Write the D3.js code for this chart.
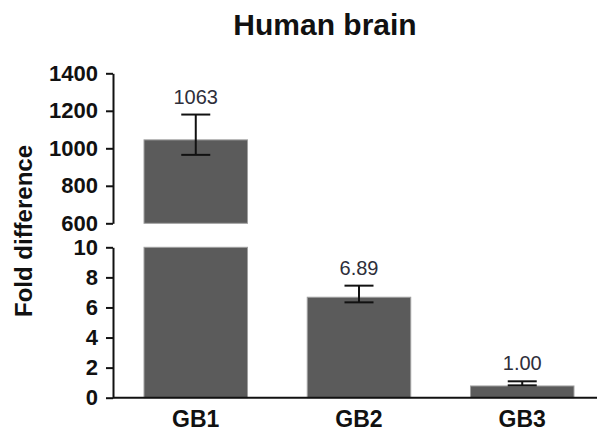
<!DOCTYPE html>
<html>
<head>
<meta charset="utf-8">
<script src="https://cdn.jsdelivr.net/npm/d3@7"></script>
<style>
  body { margin: 0; background: #fff; }
  text { font-family: "Liberation Sans", Arial, sans-serif; }
</style>
</head>
<body>
<svg></svg>
<script>
// data
let groups = ["GB1", "GB2", "GB3"];
let means = [1045, 6.68, 0.78];
let errHigh = [1180, 7.45, 1.09];
let errLow = [965, 6.34, 0.82];
let valueLabels = ["1063", "6.89", "1.00"];
let topTicks = [600, 800, 1000, 1200, 1400];
let bottomTicks = [0, 2, 4, 6, 8, 10];

let width = 597;
let height = 433;
let axisX = 113;
let breakAt = 10; // bottom segment goes 0..10, top segment 600..1400

let svg = d3.select("svg")
    .attr("width", width)
    .attr("height", height);

let x = d3.scaleBand()
    .domain(groups)
    .range([axisX, 605])
    .paddingInner(0.366)
    .paddingOuter(0.19);

let yTop = d3.scaleLinear().domain([600, 1400]).range([223.3, 73.3]);
let yBot = d3.scaleLinear().domain([0, 10]).range([397.7, 247.3]);

let data = groups.map((g, i) => ({
    group: g, mean: means[i], hi: errHigh[i], lo: errLow[i], label: valueLabels[i]
}));

function yOf(v) {
    return v > breakAt ? yTop(v) : yBot(v);
}

// bars, bottom segment
svg.selectAll(".bar-bot")
    .data(data)
    .enter()
    .append("rect")
    .attr("x", d => x(d.group))
    .attr("width", x.bandwidth())
    .attr("y", d => yBot(Math.min(d.mean, breakAt)))
    .attr("height", d => yBot(0) - yBot(Math.min(d.mean, breakAt)))
    .attr("fill", "#5b5b5b")
    .attr("stroke", "#a0a0a0")
    .attr("stroke-width", 1);

// bars, top segment
svg.selectAll(".bar-top")
    .data(data.filter(d => d.mean > breakAt))
    .enter()
    .append("rect")
    .attr("x", d => x(d.group))
    .attr("width", x.bandwidth())
    .attr("y", d => yTop(d.mean))
    .attr("height", d => yTop(600) - yTop(d.mean))
    .attr("fill", "#5b5b5b")
    .attr("stroke", "#a0a0a0")
    .attr("stroke-width", 1);

// error bars
let capHalf = 14.5;
let err = svg.selectAll(".err")
    .data(data)
    .enter()
    .append("g")
    .attr("stroke", "#111")
    .attr("stroke-width", 2);

err.append("line")
    .attr("x1", d => x(d.group) + x.bandwidth() / 2)
    .attr("x2", d => x(d.group) + x.bandwidth() / 2)
    .attr("y1", d => yOf(d.hi))
    .attr("y2", d => yOf(d.lo));
err.append("line")
    .attr("x1", d => x(d.group) + x.bandwidth() / 2 - capHalf)
    .attr("x2", d => x(d.group) + x.bandwidth() / 2 + capHalf)
    .attr("y1", d => yOf(d.hi))
    .attr("y2", d => yOf(d.hi));
err.append("line")
    .attr("x1", d => x(d.group) + x.bandwidth() / 2 - capHalf)
    .attr("x2", d => x(d.group) + x.bandwidth() / 2 + capHalf)
    .attr("y1", d => yOf(d.lo))
    .attr("y2", d => yOf(d.lo));

// value labels
svg.selectAll(".val")
    .data(data)
    .enter()
    .append("text")
    .attr("x", d => x(d.group) + x.bandwidth() / 2)
    .attr("y", d => yOf(d.hi) - 11)
    .attr("text-anchor", "middle")
    .attr("font-size", 20)
    .attr("fill", "#2e2e3a")
    .text(d => d.label);

// y axes
function styleAxis(g) {
    g.selectAll("path, line").attr("stroke", "#111").attr("stroke-width", 2);
    g.selectAll("text")
        .attr("font-size", 22)
        .attr("font-weight", "bold")
        .attr("fill", "#111")
        .attr("font-family", "Liberation Sans, Arial, sans-serif");
}

svg.append("g")
    .attr("transform", `translate(${axisX},0)`)
    .call(d3.axisLeft(yTop).tickValues(topTicks).tickFormat(d3.format("d"))
        .tickSize(7).tickSizeOuter(0).tickPadding(8))
    .call(styleAxis);

svg.append("g")
    .attr("transform", `translate(${axisX},0)`)
    .call(d3.axisLeft(yBot).tickValues(bottomTicks).tickFormat(d3.format("d"))
        .tickSize(7).tickSizeOuter(0).tickPadding(8))
    .call(styleAxis);

// baseline
svg.append("line")
    .attr("x1", axisX)
    .attr("x2", width)
    .attr("y1", yBot(0))
    .attr("y2", yBot(0))
    .attr("stroke", "#111")
    .attr("stroke-width", 2);

// x labels
svg.selectAll(".xlab")
    .data(groups)
    .enter()
    .append("text")
    .attr("x", d => x(d) + x.bandwidth() / 2)
    .attr("y", 427)
    .attr("text-anchor", "middle")
    .attr("font-size", 23)
    .attr("font-weight", "bold")
    .attr("fill", "#111")
    .text(d => d);

// title
svg.append("text")
    .attr("x", 325)
    .attr("y", 35)
    .attr("text-anchor", "middle")
    .attr("font-size", 30)
    .attr("font-weight", "bold")
    .attr("fill", "#111")
    .text("Human brain");

// y label
svg.append("text")
    .attr("transform", "translate(32,231) rotate(-90)")
    .attr("text-anchor", "middle")
    .attr("font-size", 24)
    .attr("font-weight", "bold")
    .attr("fill", "#111")
    .text("Fold difference");
</script>
</body>
</html>
